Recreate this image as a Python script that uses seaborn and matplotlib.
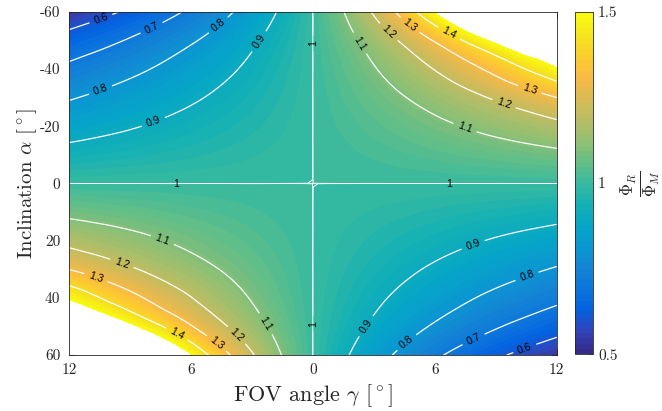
import numpy as np
import matplotlib.pyplot as plt
import matplotlib.tri as mtri
import seaborn as sns

# FOV angle (deg) columns and inclination (deg) rows of the ratio map
gamma_deg = [-12, -10, -8, -6, -4, -2, 0, 2, 4, 6, 8, 10, 12]
alpha_deg = [-60, -50, -40, -30, -20, -10, 0, 10, 20, 30, 40, 50, 60]

# flux ratio Phi_R / Phi_M, one row per inclination (top = -60)
row_m60 = [0.534, 0.587, 0.647, 0.716, 0.796, 0.889, 1.0, 1.133, 1.295, 1.495, 1.747, 2.073, 2.505]
row_m50 = [0.637, 0.683, 0.734, 0.790, 0.852, 0.922, 1.0, 1.089, 1.190, 1.307, 1.443, 1.603, 1.794]
row_m40 = [0.720, 0.759, 0.800, 0.845, 0.892, 0.944, 1.0, 1.061, 1.129, 1.203, 1.285, 1.378, 1.481]
row_m30 = [0.793, 0.824, 0.856, 0.889, 0.924, 0.961, 1.0, 1.042, 1.086, 1.133, 1.184, 1.240, 1.299]
row_m20 = [0.862, 0.883, 0.905, 0.928, 0.951, 0.975, 1.0, 1.026, 1.053, 1.081, 1.111, 1.142, 1.175]
row_m10 = [0.929, 0.941, 0.952, 0.964, 0.976, 0.988, 1.0, 1.012, 1.025, 1.038, 1.052, 1.065, 1.079]
row_0 = [1.0, 1.0, 1.0, 1.0, 1.0, 1.0, 1.0, 1.0, 1.0, 1.0, 1.0, 1.0, 1.0]
row_p10 = [1.079, 1.065, 1.052, 1.038, 1.025, 1.012, 1.0, 0.988, 0.976, 0.964, 0.952, 0.941, 0.929]
row_p20 = [1.175, 1.142, 1.111, 1.081, 1.053, 1.026, 1.0, 0.975, 0.951, 0.928, 0.905, 0.883, 0.862]
row_p30 = [1.299, 1.240, 1.184, 1.133, 1.086, 1.042, 1.0, 0.961, 0.924, 0.889, 0.856, 0.824, 0.793]
row_p40 = [1.481, 1.378, 1.285, 1.203, 1.129, 1.061, 1.0, 0.944, 0.892, 0.845, 0.800, 0.759, 0.720]
row_p50 = [1.794, 1.603, 1.443, 1.307, 1.190, 1.089, 1.0, 0.922, 0.852, 0.790, 0.734, 0.683, 0.637]
row_p60 = [2.505, 2.073, 1.747, 1.495, 1.295, 1.133, 1.0, 0.889, 0.796, 0.716, 0.647, 0.587, 0.534]

# the "1" isoline sits on the axes, so it is traced from both sides
contour_levels = [0.6, 0.7, 0.8, 0.9, 0.99999, 1.00001, 1.1, 1.2, 1.3, 1.4]
cbar_ticks = [0.5, 1.0, 1.5]
cbar_tick_labels = ['0.5', '1', '1.5']
x_ticks = [-12, -6, 0, 6, 12]
x_tick_labels = ['12', '6', '0', '6', '12']
y_ticks = [-60, -40, -20, 0, 20, 40, 60]
y_tick_labels = ['-60', '-40', '-20', '0', '20', '40', '60']

# where the contour labels sit (gamma, alpha)
label_spots = [(-10.4, -57.2), (-7.9, -54), (-4.6, -55), (-2.6, -49.5), (-10.4, -31.8),
               (-7.8, -20.8), (-6.7, 0), (0, -49), (2.3, -49), (3.7, -52.7), (4.8, -55.5),
               (6.7, -52.6), (10.7, -33.4), (9.4, -27.8), (7.5, -19.8), (6.7, 0),
               (-7.4, 19.8), (-9.4, 28.2), (-10.7, 33.4), (-6.7, 52.7), (-4.7, 55.5),
               (-3.7, 52.7), (-2.3, 49), (0, 49), (7.85, 20.7), (10.5, 31.7), (7.9, 54.4),
               (10.4, 57.1), (4.6, 55.4), (2.6, 49.8)]

Z = np.array([row_m60, row_m50, row_m40, row_m30, row_m20, row_m10, row_0,
              row_p10, row_p20, row_p30, row_p40, row_p50, row_p60])

sns.set_style('ticks')
plt.rcParams['font.family'] = 'serif'
plt.rcParams['font.serif'] = ['cmr10', 'DejaVu Serif']
plt.rcParams['mathtext.fontset'] = 'cm'
plt.rcParams['axes.unicode_minus'] = False

# parula colormap (MATLAB default), every 4th of the 64 entries
parula = [(0.2081, 0.1663, 0.5292), (0.1959, 0.2645, 0.7279), (0.0117, 0.3875, 0.8820),
          (0.0498, 0.4586, 0.8641), (0.0793, 0.5200, 0.8312), (0.0343, 0.5966, 0.8199),
          (0.0228, 0.6535, 0.7768), (0.0843, 0.6928, 0.7062), (0.2178, 0.7250, 0.6193),
          (0.3953, 0.7459, 0.5244), (0.5709, 0.7485, 0.4494), (0.7184, 0.7411, 0.3905),
          (0.8507, 0.7299, 0.3360), (0.9739, 0.7314, 0.2666), (0.9880, 0.8066, 0.1794),
          (0.9589, 0.8949, 0.1132), (0.9763, 0.9831, 0.0538)]
cmap = sns.blend_palette(parula, as_cmap=True).resampled(64).with_extremes(over='white')

# smooth the read grid with matplotlib's cubic triangulation refiner
G, A = np.meshgrid(gamma_deg, alpha_deg)
tri_s = mtri.Triangulation(G.ravel(), A.ravel() / 5.0)
tri_f, z_f = mtri.UniformTriRefiner(tri_s).refine_field(Z.ravel(), subdiv=3)
tri_f = mtri.Triangulation(tri_f.x, tri_f.y * 5.0, tri_f.triangles)

fig = plt.figure(figsize=(6.62, 4.11), dpi=100)
ax = fig.add_axes([0.104, 0.136, 0.737, 0.835])
cax = fig.add_axes([0.869, 0.138, 0.027, 0.833])

cf = ax.tricontourf(tri_f, z_f, levels=np.linspace(0.5, 1.5, 65), cmap=cmap,
                    extend='max', antialiased=False)
cs = ax.tricontour(tri_f, z_f, levels=contour_levels, colors='white',
                   linewidths=[0.9, 0.9, 0.9, 0.9, 0.7, 0.7, 0.9, 0.9, 0.9, 0.9])
ax.set_xlim(-12, 12)
ax.set_ylim(60, -60)

fmt = {l: ('1' if abs(l - 1) < 0.01 else '%g' % l) for l in contour_levels}
with plt.rc_context({'font.family': 'Liberation Sans'}):
    ax.clabel(cs, fmt=fmt, fontsize=7.5, colors='black', inline=True,
              inline_spacing=5, manual=label_spots)

ax.set_xticks(x_ticks)
ax.set_xticklabels(x_tick_labels)
ax.set_yticks(y_ticks)
ax.set_yticklabels(y_tick_labels)
ax.tick_params(direction='in', top=True, right=True, length=4, width=0.6,
               labelsize=11, color='#262626', pad=6)
for s in ax.spines.values():
    s.set_linewidth(0.6)
    s.set_color('#262626')
ax.set_xlabel(r'FOV angle $\gamma$ $[^\circ]$', fontsize=16, labelpad=4)
ax.set_ylabel(r'Inclination $\alpha$ $[^\circ]$', fontsize=15, labelpad=1)

sm = plt.cm.ScalarMappable(norm=plt.Normalize(0.5, 1.5), cmap=cmap)
cb = fig.colorbar(sm, cax=cax)
cb.set_ticks(cbar_ticks)
cb.set_ticklabels(cbar_tick_labels)
cb.ax.tick_params(direction='in', length=3, width=0.6, labelsize=11)
cb.outline.set_linewidth(0.6)
cb.set_label(r'$\frac{\Phi_R}{\Phi_M}$', fontsize=17, rotation=90, labelpad=2)

fig.savefig('out.png', dpi=100)
